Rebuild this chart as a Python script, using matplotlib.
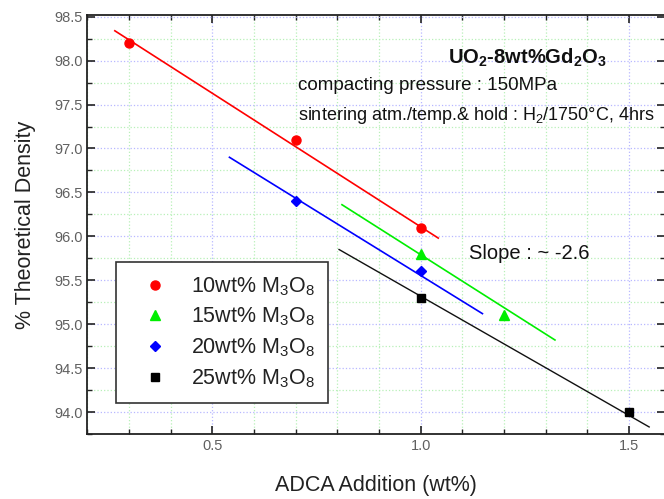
import matplotlib
matplotlib.use("Agg")
import matplotlib.pyplot as plt
from matplotlib.ticker import MultipleLocator

plt.rcParams['font.family'] = ['Liberation Sans', 'DejaVu Sans']
plt.rcParams['mathtext.fontset'] = 'custom'
plt.rcParams['mathtext.rm'] = 'Liberation Sans'
plt.rcParams['mathtext.it'] = 'Liberation Sans:italic'
plt.rcParams['mathtext.bf'] = 'Liberation Sans:bold'

# measured densities
adca_10 = [0.3, 0.7, 1.0]
dens_10 = [98.2, 97.1, 96.1]
adca_15 = [1.0, 1.2]
dens_15 = [95.8, 95.1]
adca_20 = [0.7, 1.0]
dens_20 = [96.4, 95.6]
adca_25 = [1.0, 1.5]
dens_25 = [95.3, 94.0]

# fitted lines, end points
fit10_x = [0.266, 1.042]
fit10_y = [98.34, 95.98]
fit15_x = [0.811, 1.322]
fit15_y = [96.36, 94.82]
fit20_x = [0.541, 1.148]
fit20_y = [96.90, 95.12]
fit25_x = [0.804, 1.548]
fit25_y = [95.85, 93.83]

labels = ["10wt% M$_3$O$_8$", "15wt% M$_3$O$_8$",
          "20wt% M$_3$O$_8$", "25wt% M$_3$O$_8$"]

fig = plt.figure(figsize=(6.64, 4.99), dpi=100)
ax = fig.add_axes([0.1315, 0.1303, 0.870, 0.8397])

ax.plot(fit10_x, fit10_y, color="#ff0000", lw=1.2)
ax.plot(fit15_x, fit15_y, color="#00ee00", lw=1.2)
ax.plot(fit20_x, fit20_y, color="#0000ff", lw=1.2)
ax.plot(fit25_x, fit25_y, color="#111111", lw=1.0)

ax.plot(adca_10, dens_10, "o", color="#ff0000", ms=6.5, ls="none", label=labels[0])
ax.plot(adca_15, dens_15, "^", color="#00ee00", ms=7, ls="none", label=labels[1])
ax.plot(adca_20, dens_20, "D", color="#0000ff", ms=5.5, ls="none", label=labels[2])
ax.plot(adca_25, dens_25, "s", color="#000000", ms=6, ls="none", label=labels[3])

ax.set_xlim(0.2, 1.586)
ax.set_ylim(93.75, 98.52)
ax.xaxis.set_major_locator(MultipleLocator(0.5))
ax.xaxis.set_minor_locator(MultipleLocator(0.1))
ax.yaxis.set_major_locator(MultipleLocator(0.5))
ax.yaxis.set_minor_locator(MultipleLocator(0.25))
ax.tick_params(which="both", direction="in", top=True, right=True,
               labelsize=10.5, labelcolor="#606060", color="#222222")
ax.tick_params(which="major", length=6, width=1.2)
ax.tick_params(which="minor", length=3.5, width=1.0)

ax.grid(which="major", color="#b8b8ff", ls=":", lw=0.9)
ax.grid(which="minor", color="#b8f0b8", ls=":", lw=0.9)
ax.set_axisbelow(True)
for s in ax.spines.values():
    s.set_linewidth(1.3)
    s.set_color("#222222")

ax.set_xlabel("ADCA Addition (wt%)", fontsize=15.5, color="#222222", labelpad=16)
ax.set_ylabel("% Theoretical Density", fontsize=15.5, color="#222222", labelpad=13)

ax.text(1.065, 97.97, r"UO$_\mathbf{2}$-8wt%Gd$_\mathbf{2}$O$_\mathbf{3}$",
        fontsize=14.5, fontweight="bold", color="#111111")
ax.text(0.705, 97.67, "compacting pressure : 150MPa", fontsize=13.5, color="#111111")
ax.text(0.705, 97.33, "sintering atm./temp.& hold : H$_2$/1750°C, 4hrs",
        fontsize=13, color="#111111")
ax.text(1.115, 95.74, "Slope : ~ -2.6", fontsize=14.5, color="#111111")

leg = ax.legend(loc="upper left", bbox_to_anchor=(0.0497, 0.41), borderaxespad=0,
                fontsize=15.5, frameon=True, fancybox=False, framealpha=1,
                edgecolor="#333333", handlelength=2.4, handletextpad=0.5,
                labelspacing=0.38, borderpad=0.6)
leg.get_frame().set_linewidth(1.2)
for t in leg.get_texts():
    t.set_color("#222222")

fig.savefig("out.png", dpi=100)
